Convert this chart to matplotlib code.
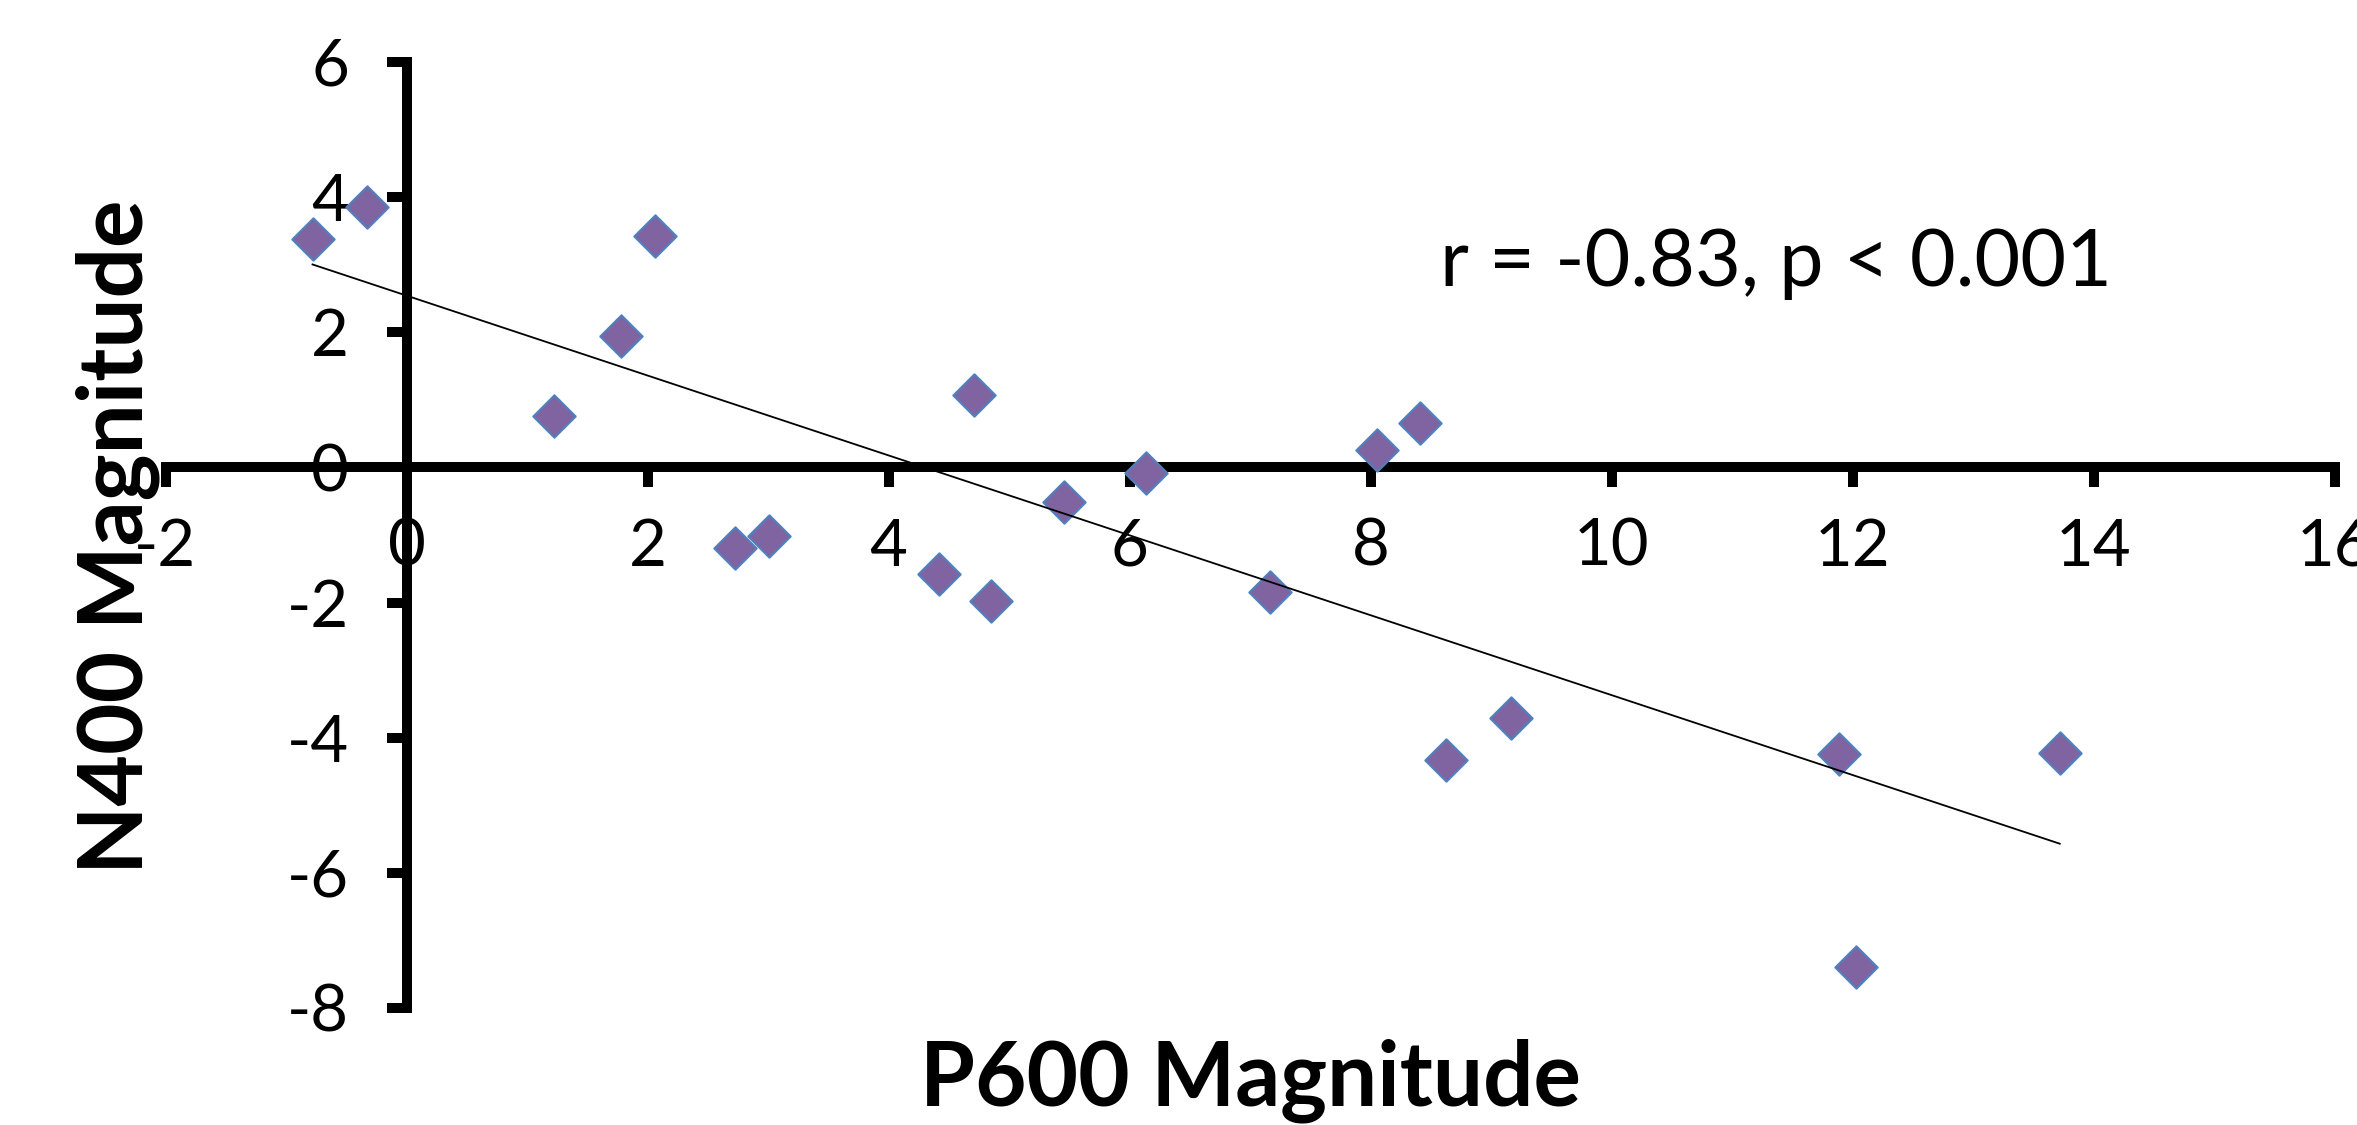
import numpy as np
import matplotlib
matplotlib.use('Agg')
import matplotlib.pyplot as plt
from matplotlib.path import Path

# ---- data ----
p600 = [-0.78, -0.33, 2.06, 1.78, 1.22, 4.71, 2.73, 3.01, 4.42, 4.85,
        5.46, 6.14, 7.17, 8.05, 8.41, 8.63, 9.17, 11.89, 12.03, 13.72]
n400 = [3.38, 3.85, 3.43, 1.94, 0.76, 1.07, -1.19, -1.02, -1.57, -1.97,
        -0.51, -0.08, -1.85, 0.26, 0.66, -4.33, -3.71, -4.24, -7.39, -4.23]
x_ticks = [-2, 0, 2, 4, 6, 8, 10, 12, 14, 16]
y_ticks = [-8, -6, -4, -2, 0, 2, 4, 6]
x_label = "P600 Magnitude"
y_label = "N400 Magnitude"
annotation = "r = -0.83, p < 0.001"

plt.rcParams['font.family'] = ['Lato', 'DejaVu Sans']
plt.rcParams['axes.unicode_minus'] = False

W, H = 2357, 1125
fig = plt.figure(figsize=(W / 100, H / 100), dpi=100)
ax = fig.add_axes([165.5 / W, 1 - 1008 / H, 2169 / W, 946 / H])
ax.set_xlim(-2, 16)
ax.set_ylim(-8, 6)

for side in ['top', 'right']:
    ax.spines[side].set_visible(False)
for side in ['left', 'bottom']:
    ax.spines[side].set_position(('data', 0))
    ax.spines[side].set_linewidth(7.2)
    ax.spines[side].set_color('black')

ax.set_xticks(x_ticks)
ax.set_yticks(y_ticks)
ax.set_xticklabels([str(v) for v in x_ticks])
ax.set_yticklabels([str(v) for v in y_ticks])
ax.tick_params(direction='out', length=14.4, width=7.2, labelsize=47,
               colors='black')
ax.tick_params(axis='x', pad=22)
ax.tick_params(axis='y', pad=27)

diamond = Path([(0, 1), (1, 0), (0, -1), (-1, 0), (0, 1)],
               [Path.MOVETO, Path.LINETO, Path.LINETO, Path.LINETO, Path.CLOSEPOLY])
ax.plot(p600, n400, linestyle='none', marker=diamond, markersize=30.5,
        markerfacecolor='#8064A2', markeredgecolor='#4F81BD',
        markeredgewidth=1.5, zorder=3, clip_on=False)

coef = np.polyfit(p600, n400, 1)
xs = np.array([min(p600), max(p600)])
ax.plot(xs, np.polyval(coef, xs), color='black', linewidth=1.3, zorder=4)

ax.text(8.58, 2.68, annotation, fontsize=57, ha='left', va='baseline')

fig.text(1250 / W, 1 - 1105 / H, x_label, fontsize=64, fontweight='bold',
         ha='center', va='baseline')
fig.text(142 / W, 1 - 537 / H, y_label, fontsize=64, fontweight='bold',
         rotation=90, rotation_mode='anchor', ha='center', va='baseline')

fig.savefig('out.png', dpi=100)
